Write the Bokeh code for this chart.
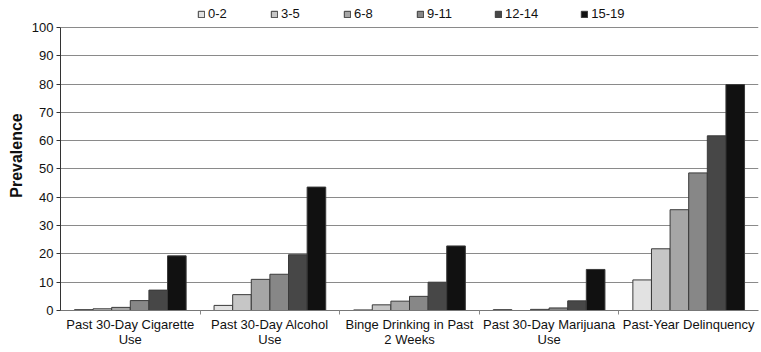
from bokeh.plotting import figure
from bokeh.models import ColumnDataSource, FixedTicker, Legend, LegendItem, Range1d
from bokeh.transform import dodge
from bokeh.embed import file_html
from bokeh.resources import INLINE

categories = ["Past 30-Day Cigarette\nUse", "Past 30-Day Alcohol\nUse",
              "Binge Drinking in Past\n2 Weeks", "Past 30-Day Marijuana\nUse",
              "Past-Year Delinquency"]
age_groups = ["0-2", "3-5", "6-8", "9-11", "12-14", "15-19"]
v_0_2 = [0.3, 1.8, 0.2, 0.3, 10.8]
v_3_5 = [0.6, 5.6, 2.0, 0.0, 21.8]
v_6_8 = [1.1, 11.0, 3.3, 0.4, 35.6]
v_9_11 = [3.5, 12.8, 5.0, 0.9, 48.6]
v_12_14 = [7.2, 19.7, 10.0, 3.4, 61.7]
v_15_19 = [19.3, 43.6, 22.8, 14.5, 79.8]
series = [v_0_2, v_3_5, v_6_8, v_9_11, v_12_14, v_15_19]
colors = ["#e2e2e2", "#c6c6c6", "#a6a6a6", "#878787", "#474747", "#111111"]
y_ticks = list(range(0, 101, 10))

FONT = "Liberation Sans"
n = len(categories)
centers = [i + 0.5 for i in range(n)]
data = {"x": centers}
for g, vals in zip(age_groups, series):
    data[g] = vals
src = ColumnDataSource(data)

p = figure(width=761, height=352, output_backend="svg", toolbar_location=None,
           x_range=Range1d(0, n), y_range=Range1d(0, 109.5),
           min_border_left=60, min_border_right=3, min_border_top=0,
           min_border_bottom=42)
p.outline_line_color = None
p.background_fill_color = "white"

bw = 0.8 / len(age_groups)
renderers = []
for k, (g, c) in enumerate(zip(age_groups, colors)):
    off = -0.4 + bw * (k + 0.5)
    r = p.vbar(x=dodge("x", off), top=g, width=bw, bottom=0, source=src,
               fill_color=c, line_color="#3a3a3a", line_width=1)
    renderers.append(r)

# axes
p.xaxis.ticker = FixedTicker(ticks=centers, minor_ticks=list(range(1, n)))
p.xaxis.major_label_overrides = {c: lab for c, lab in zip(centers, categories)}
p.xaxis.major_tick_line_color = None
p.xaxis.minor_tick_out = 4
p.xaxis.minor_tick_in = 0
p.xaxis.minor_tick_line_color = "#888888"
p.xaxis.axis_line_color = "#777777"
p.xaxis.major_label_text_font = FONT
p.xaxis.major_label_text_font_size = "13px"
p.xaxis.major_label_text_color = "#111111"
p.xaxis.major_label_text_line_height = 1.0
p.xaxis.major_label_standoff = 0

p.yaxis.ticker = FixedTicker(ticks=y_ticks)
p.yaxis.bounds = (0, 100)
p.yaxis.minor_tick_line_color = None
p.yaxis.major_tick_out = 4
p.yaxis.major_tick_in = 0
p.yaxis.major_tick_line_color = "#333333"
p.yaxis.axis_line_color = "#333333"
p.yaxis.major_label_text_font = FONT
p.yaxis.major_label_text_font_size = "13px"
p.yaxis.major_label_text_color = "#111111"
p.yaxis.major_label_standoff = 3
p.yaxis.axis_label = "Prevalence"
p.yaxis.axis_label_text_font = FONT
p.yaxis.axis_label_text_font_style = "bold"
p.yaxis.axis_label_text_font_size = "16px"
p.yaxis.axis_label_text_color = "#111111"
p.yaxis.axis_label_standoff = 4

p.xgrid.grid_line_color = None
p.ygrid.grid_line_color = "#8a8a8a"
p.ygrid.grid_line_width = 1

legend = Legend(items=[LegendItem(label=g, renderers=[r]) for g, r in zip(age_groups, renderers)],
                orientation="horizontal", location=(137, 289),
                background_fill_alpha=0, border_line_color=None,
                glyph_width=8, glyph_height=8, label_standoff=3, spacing=42,
                padding=0, margin=0,
                label_text_font=FONT, label_text_font_size="13px",
                label_text_color="#111111")
p.add_layout(legend, "center")

open("out.html", "w").write(file_html(p, INLINE))
